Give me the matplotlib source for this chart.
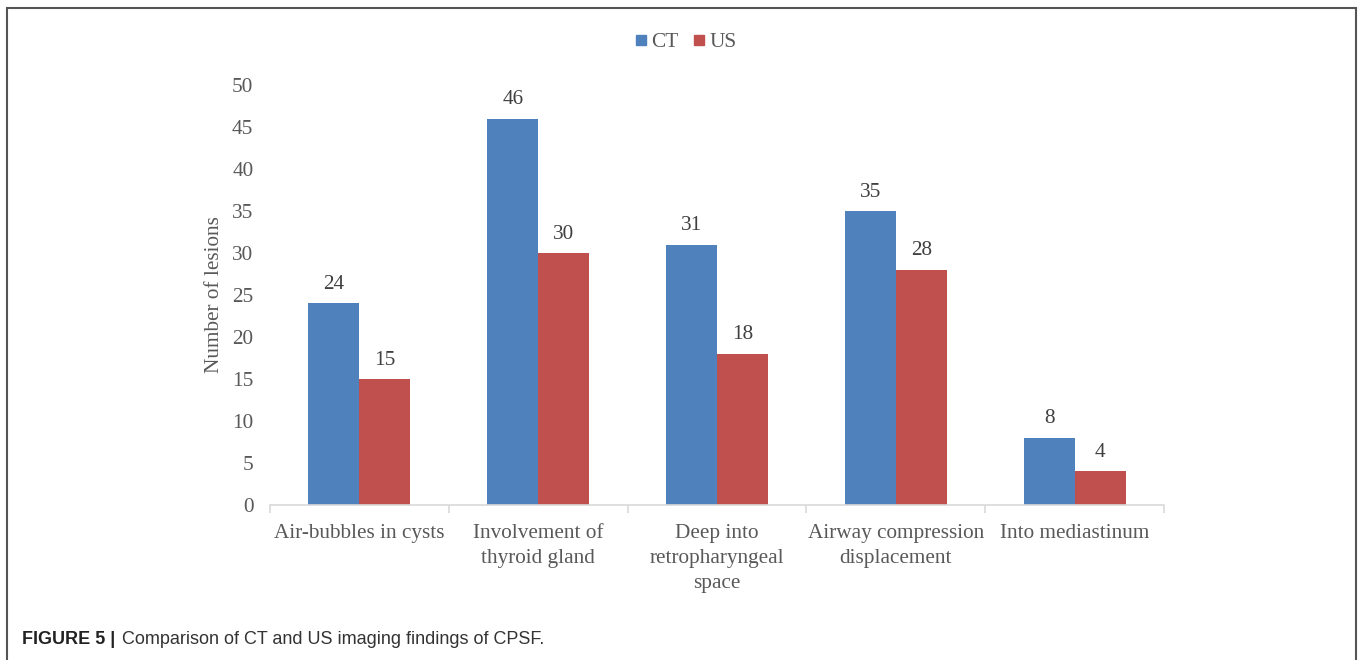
import matplotlib.pyplot as plt
from matplotlib.lines import Line2D
from matplotlib.patches import Rectangle
import numpy as np

categories = ['Air-bubbles in cysts', 'Involvement of\nthyroid gland',
              'Deep into\nretropharyngeal\nspace', 'Airway compression\ndisplacement',
              'Into mediastinum']
ct = [24, 46, 31, 35, 8]
us = [15, 30, 18, 28, 4]
series = ['CT', 'US']
colors = ['#4F81BD', '#C0504D']
grey = '#595959'

plt.rcParams['font.family'] = ['Liberation Serif', 'DejaVu Serif']

fig = plt.figure(figsize=(13.58, 6.6), dpi=100)
ax = fig.add_axes([270/1358, 1-505/660, 894/1358, 420/660])

x = np.arange(len(categories))
w = 0.285
b1 = ax.bar(x - w/2, ct, w, color=colors[0])
b2 = ax.bar(x + w/2, us, w, color=colors[1])

# etiquetas de datos
for bars in (b1, b2):
    for r in bars:
        ax.text(r.get_x() + r.get_width()/2, r.get_height() + 2.25, str(int(r.get_height())),
                ha='center', va='center', fontsize=15.3, color='#404040')

ax.set_xlim(-0.5, len(categories) - 0.5)
ax.set_ylim(0, 50)
ax.set_yticks(range(0, 51, 5))
ax.set_xticks(x)
ax.set_xticklabels(categories, fontsize=15.3, color=grey, linespacing=1.4)
ax.set_xticks(np.arange(-0.5, len(categories)), minor=True)
ax.tick_params(axis='x', which='major', length=0, pad=14)
ax.tick_params(axis='x', which='minor', length=6, color='#D9D9D9', width=1.2)
ax.tick_params(axis='y', length=0, pad=12, labelsize=15.3, labelcolor=grey)
for s in ['top', 'right', 'left']:
    ax.spines[s].set_visible(False)
ax.spines['bottom'].set_color('#D9D9D9')
ax.spines['bottom'].set_linewidth(1.2)
ax.set_ylabel('Number of lesions', fontsize=15.3, color=grey, labelpad=6)

handles = [Line2D([], [], marker='s', linestyle='', color=c, markersize=7.5) for c in colors]
fig.legend(handles, series, loc='center', bbox_to_anchor=(686/1358, 1-42/660), ncol=2,
           frameon=False, fontsize=15.3, handlelength=0.5, handletextpad=0.25,
           columnspacing=0.7, labelcolor=grey)

# marco y leyenda de la figura
fig.patches.append(Rectangle((7/1358, -0.1), 1349/1358, 1.1 - 8/660, transform=fig.transFigure,
                             fill=False, edgecolor='#555555', linewidth=1.5))
fig.text(22/1358, 1-640/660, 'FIGURE 5 |', fontsize=13, fontweight='bold',
         family='Liberation Sans', color='#222222', va='center')
fig.text(122/1358, 1-640/660, 'Comparison of CT and US imaging findings of CPSF.',
         fontsize=13, family='Liberation Sans', color='#333333', va='center')

plt.savefig('out.png', dpi=100)
